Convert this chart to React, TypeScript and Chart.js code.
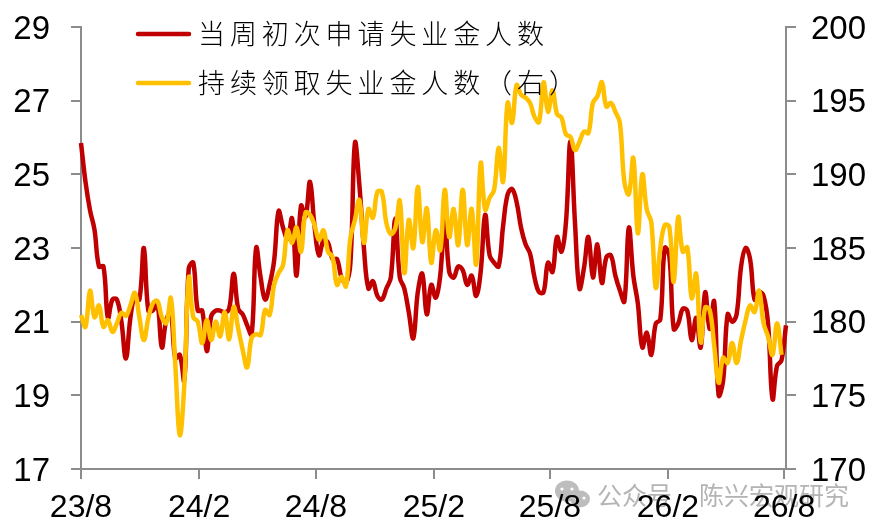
import React, { useEffect, useRef } from "react";
import { Chart, registerables } from "chart.js";

Chart.register(...registerables);

const WEEK_DAYS = 7;
const xTickDays = [0, 184, 366, 550, 731, 915, 1096];
const xTickLabels = ["23/8", "24/2", "24/8", "25/2", "25/8", "26/2", "26/8"];
const leftTicks = [17, 19, 21, 23, 25, 27, 29];
const rightTicks = [170, 175, 180, 185, 190, 195, 200];
const initialLabel = "当周初次申请失业金人数";
const continuingLabel = "持续领取失业金人数（右）";
const watermarkA = "公众号";
const watermarkB = "陈兴宏观研究";

const initialClaims = [
  25.85, 24.8, 24.03, 23.5, 22.5, 22.5, 21.1, 21.6, 21.6, 21.0,
  20.0, 21.1, 21.7, 21.6, 23.0, 21.3, 21.3, 21.5, 20.3, 21.05,
  21.25, 20.0, 20.1, 19.4, 22.45, 22.6, 21.3, 21.3, 20.2, 21.15,
  21.3, 21.3, 21.25, 21.35, 22.3, 21.35, 21.2, 20.9, 20.65, 23.0,
  22.2, 21.6, 22.0, 22.65, 24.0, 23.55, 23.25, 23.8, 22.25, 24.15,
  23.85, 24.8, 23.6, 22.8, 23.2, 23.15, 22.7, 22.7, 22.2, 22.05,
  22.6, 25.85, 24.7, 23.0, 21.9, 22.1, 21.7, 21.6, 21.9, 22.2,
  23.8, 22.2, 21.9, 21.25, 20.55, 21.8, 22.3, 21.2, 22.0, 21.65,
  22.25, 23.8, 22.35, 22.2, 22.5, 22.4, 22.0, 22.25, 21.7, 22.35,
  23.9, 22.8, 22.6, 22.5, 23.6, 24.45, 24.6, 24.25, 23.55, 23.1,
  22.85, 22.2, 21.8, 21.8, 22.6, 22.35, 23.3, 22.9, 23.7, 25.9,
  23.7, 21.9, 22.45, 23.3, 22.2, 23.1, 22.05, 22.75, 22.8, 22.25,
  21.85, 21.55, 23.55, 22.25, 21.5, 20.3, 20.7, 20.1, 20.95, 21.05,
  23.0, 22.8, 20.8, 20.95, 21.35, 21.3, 20.5, 21.1, 20.3, 21.8,
  20.8, 21.55, 19.0, 19.4, 21.2, 21.0, 21.2, 22.5, 23.0, 22.7,
  21.6, 21.8, 21.7, 20.95, 18.9, 19.8, 19.95, 20.9,
];

const continuingClaims = [
  180.45, 179.65, 182.1, 180.3, 181.1, 179.65, 180.1, 179.3, 179.9, 180.6,
  180.4, 181.1, 181.95, 180.3, 178.75, 180.25, 181.25, 181.4, 180.3, 179.9,
  181.6, 177.05, 172.3, 175.7, 183.0, 180.3, 180.0, 178.55, 180.1, 178.75,
  180.0, 179.0, 180.65, 178.8, 181.0, 179.55, 178.1, 176.9, 178.9, 179.15,
  179.1, 180.8, 180.45, 182.5, 183.3, 183.85, 186.2, 185.35, 186.4, 184.75,
  187.4, 187.25, 186.55, 185.55, 186.2, 184.75, 184.4, 182.5, 183.05, 182.4,
  185.7, 186.9, 188.25, 185.35, 187.65, 187.05, 188.8, 188.8, 186.7, 185.95,
  186.35, 188.2, 183.3, 186.9, 185.0, 189.15, 185.4, 187.7, 184.0, 186.2,
  184.85, 188.95, 185.75, 187.65, 185.2, 188.95, 185.2, 187.65, 183.9, 190.75,
  187.6, 188.4, 188.95, 191.8, 189.5, 194.85, 193.5, 196.05, 195.4, 195.2,
  194.85, 193.9, 193.55, 196.25, 194.25, 195.7, 194.1, 193.85, 192.7, 192.55,
  191.65, 192.2, 192.9, 192.8, 194.85, 195.3, 196.25, 194.6, 194.85, 194.25,
  193.5, 189.5, 188.65, 191.1, 186.0, 190.0, 187.6, 186.75, 182.3, 185.0,
  186.55, 186.45, 182.7, 187.1, 184.75, 185.05, 181.6, 183.25, 178.6, 180.95,
  180.8, 178.4, 175.85, 177.55, 177.2, 178.55, 177.2, 178.75, 180.1, 181.1,
  180.65, 182.1, 179.9, 179.0, 177.75, 179.9, 177.75,
];

const RED = "#C00000";
const GOLD = "#FFC000";
const AXIS = "#8C8C8C";
const TICK_FONT = '"Liberation Sans", Arial, sans-serif';
const CJK_FONT = '"Noto Sans CJK SC", sans-serif';

const toPoints = (values: number[]) =>
  values.map((y, i) => ({ x: i * WEEK_DAYS, y }));

const legendAndMark = {
  id: "legendAndMark",
  beforeDraw(chart: any) {
    const ctx = chart.ctx;
    ctx.save();
    ctx.fillStyle = "#BDBDBD";
    ctx.beginPath();
    ctx.ellipse(567, 491, 12, 10.5, 0, 0, Math.PI * 2);
    ctx.fill();
    ctx.beginPath();
    ctx.ellipse(580, 499, 10, 8.5, 0, 0, Math.PI * 2);
    ctx.fill();
    ctx.fillStyle = "#FFFFFF";
    for (const [cx, cy] of [[562, 489], [572, 489], [576, 498], [584, 498]]) {
      ctx.beginPath();
      ctx.arc(cx, cy, 1.6, 0, Math.PI * 2);
      ctx.fill();
    }
    ctx.fillStyle = "#B4B4B4";
    ctx.textBaseline = "middle";
    ctx.textAlign = "left";
    ctx.font = `25px ${CJK_FONT}`;
    ctx.fillText(watermarkA, 597, 495);
    ctx.fillText(watermarkB, 699, 495);
    ctx.restore();
  },
  afterDraw(chart: any) {
    const ctx = chart.ctx;
    const rows = [34, 83];
    chart.data.datasets.forEach((ds: any, i: number) => {
      ctx.save();
      ctx.strokeStyle = ds.borderColor;
      ctx.lineWidth = 4.5;
      ctx.lineCap = "round";
      ctx.beginPath();
      ctx.moveTo(138, rows[i]);
      ctx.lineTo(189, rows[i]);
      ctx.stroke();
      ctx.fillStyle = "#000000";
      ctx.font = `300 27px ${CJK_FONT}`;
      ctx.letterSpacing = "4.9px";
      ctx.textBaseline = "middle";
      ctx.textAlign = "left";
      ctx.fillText(ds.label, 198, rows[i]);
      ctx.restore();
    });
  },
};

const tickFixed = (scale: any, values: number[]) => {
  scale.ticks = values.map((value) => ({ value }));
};

export default function App() {
  const ref = useRef<HTMLCanvasElement | null>(null);
  useEffect(() => {
    if (!ref.current) return;
    const grid = {
      display: true,
      drawOnChartArea: false,
      drawTicks: true,
      color: AXIS,
      lineWidth: 2,
      tickLength: 10,
      tickWidth: 2,
      tickColor: AXIS,
    };
    const border = { display: true, color: AXIS, width: 2 };
    const tickBase = {
      color: "#000000",
      font: { family: TICK_FONT, size: 32 },
      autoSkip: false,
      maxRotation: 0,
    };
    const yFit = (width: number) => (s: any) => {
      s.width = width;
      s.paddingTop = 0;
      s.paddingBottom = 0;
    };
    const chart = new Chart(ref.current, {
      type: "line",
      data: {
        datasets: [
          {
            label: initialLabel,
            data: toPoints(initialClaims),
            borderColor: RED,
            backgroundColor: RED,
            borderWidth: 4.5,
            pointRadius: 0,
            tension: 0.4,
            yAxisID: "y",
            order: 2,
            clip: false,
          },
          {
            label: continuingLabel,
            data: toPoints(continuingClaims),
            borderColor: GOLD,
            backgroundColor: GOLD,
            borderWidth: 4.5,
            pointRadius: 0,
            tension: 0.4,
            yAxisID: "y1",
            order: 1,
            clip: false,
          },
        ],
      } as any,
      plugins: [legendAndMark],
      options: {
        responsive: false,
        animation: false,
        devicePixelRatio: 1,
        layout: { padding: { top: 27, left: 0, right: 0, bottom: 0 } },
        plugins: { legend: { display: false }, tooltip: { enabled: false } },
        scales: {
          x: {
            type: "linear",
            min: 0,
            max: (initialClaims.length - 1) * WEEK_DAYS,
            grid,
            border,
            afterBuildTicks: (s: any) => tickFixed(s, xTickDays),
            afterFit: (s: any) => {
              s.height = 61;
            },
            ticks: {
              ...tickBase,
              padding: 10,
              callback: (v: any) => xTickLabels[xTickDays.indexOf(Number(v))] ?? "",
            },
          },
          y: {
            position: "left",
            min: leftTicks[0],
            max: leftTicks[leftTicks.length - 1],
            grid,
            border,
            afterBuildTicks: (s: any) => tickFixed(s, leftTicks),
            afterFit: yFit(81),
            ticks: { ...tickBase, font: { family: TICK_FONT, size: 33 }, padding: 21, labelOffset: 2.5 },
          },
          y1: {
            position: "right",
            min: rightTicks[0],
            max: rightTicks[rightTicks.length - 1],
            grid,
            border,
            afterBuildTicks: (s: any) => tickFixed(s, rightTicks),
            afterFit: yFit(88),
            ticks: { ...tickBase, font: { family: TICK_FONT, size: 33 }, padding: 15, labelOffset: 2.5 },
          },
        },
      } as any,
    });
    return () => chart.destroy();
  }, []);
  return (
    <div style={{ position: "absolute", left: 0, top: 0, width: 874, height: 530, background: "#fff" }}>
      <canvas ref={ref} width={874} height={530} style={{ display: "block" }} />
    </div>
  );
}
